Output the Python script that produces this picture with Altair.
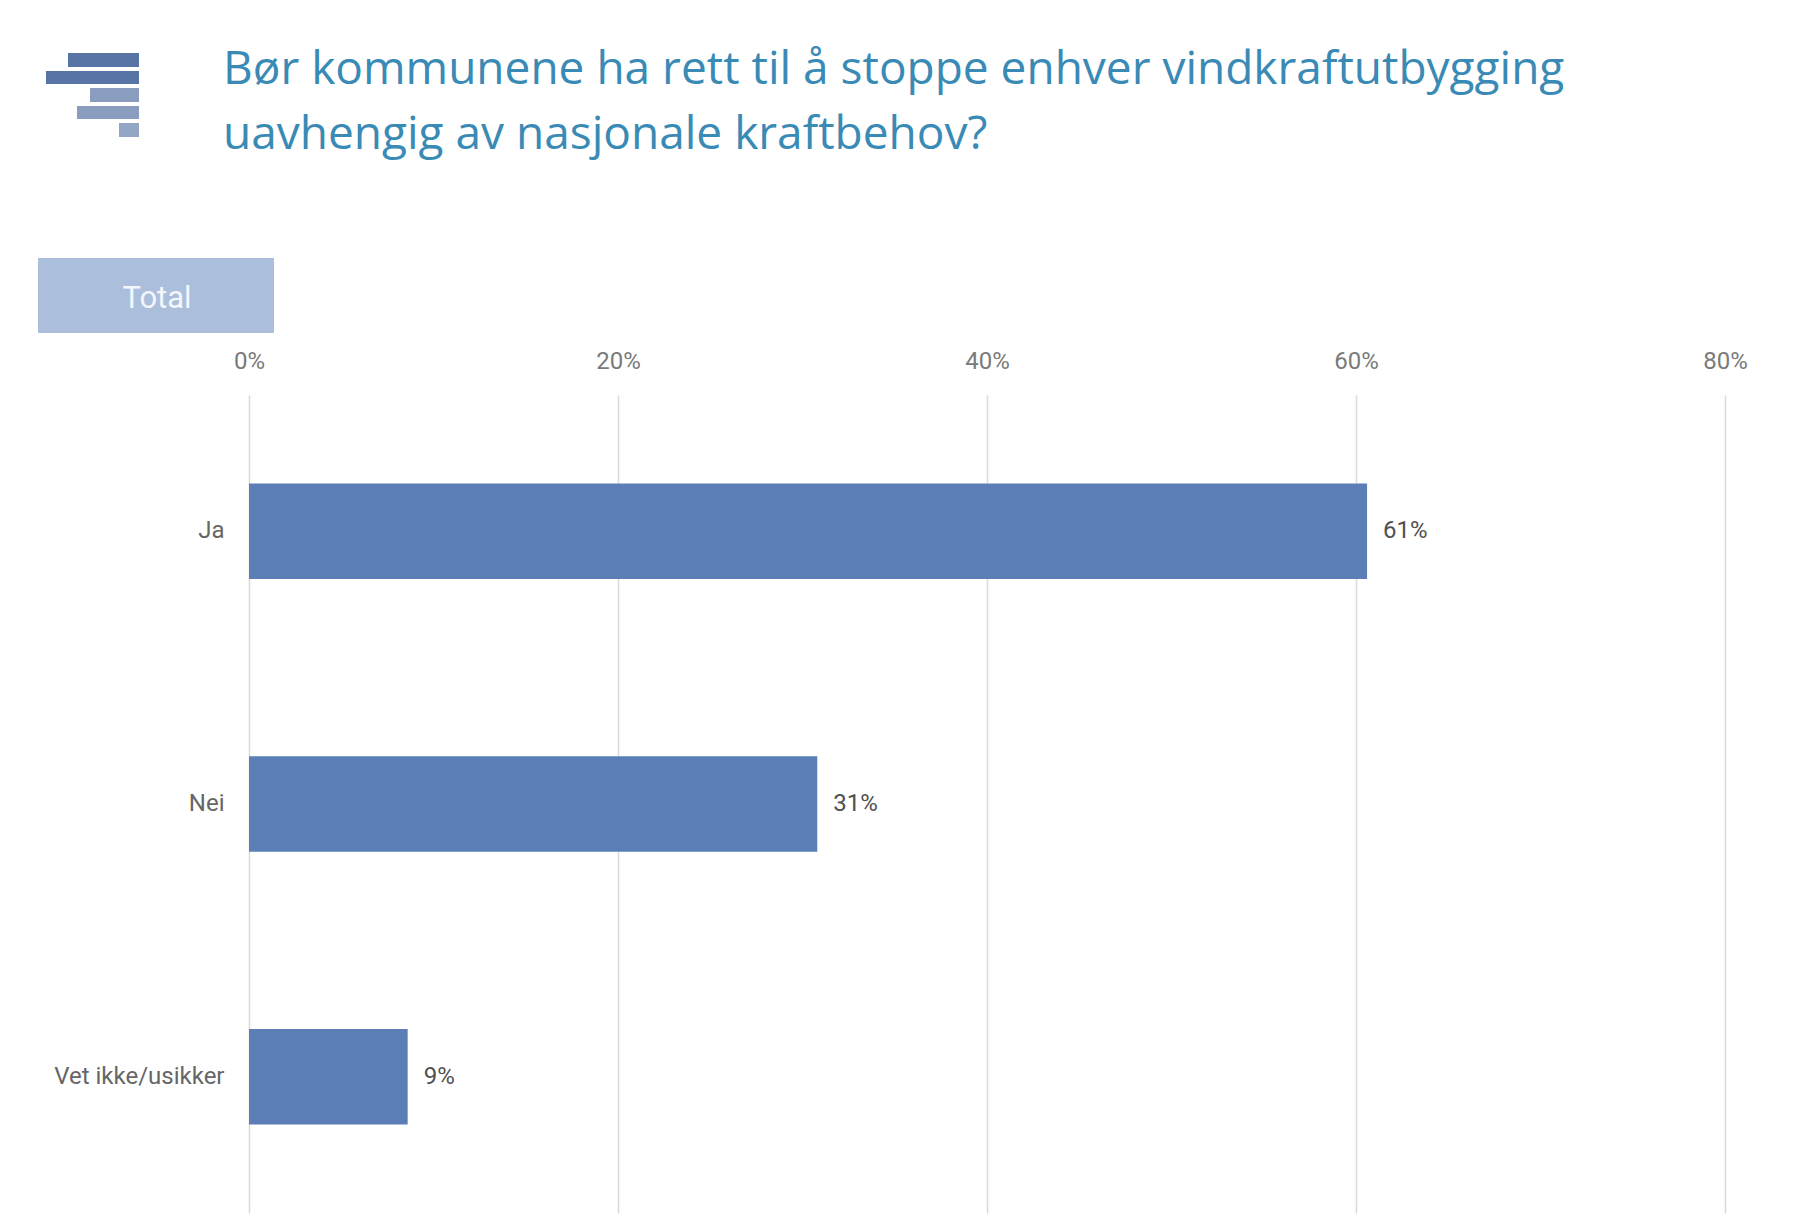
import altair as alt
import pandas as pd

# ---- data ----
categories = ["Ja", "Nei", "Vet ikke/usikker"]
shares = [0.606, 0.308, 0.086]
x_ticks = [0.0, 0.2, 0.4, 0.6, 0.8]
title_lines = [
    "Bør kommunene ha rett til å stoppe enhver vindkraftutbygging",
    "uavhengig av nasjonale kraftbehov?",
]
panel_label = "Total"

df = pd.DataFrame({"kategori": categories, "andel": shares})
one = pd.DataFrame({"k": [0]})

W, H = 1476, 818
BAR = "#5a7eb5"
FONT = "Roboto"

x_enc = alt.X(
    "andel:Q",
    scale=alt.Scale(domain=[0, 0.8], nice=False, zero=True),
    axis=alt.Axis(
        orient="top", values=x_ticks, format=".0%", grid=True,
        gridColor="#d9d9d9", gridWidth=1.5, domain=False, ticks=False,
        tickSize=0, labelPadding=22, labelFlush=False, labelFont=FONT,
        labelFontSize=24, labelColor="#7a7a7a", title=None,
    ),
)
y_enc = alt.Y(
    "kategori:N", sort=categories,
    scale=alt.Scale(paddingInner=0.65, paddingOuter=0.325),
    axis=alt.Axis(
        orient="left", domain=False, ticks=False, labelPadding=25,
        labelFont=FONT, labelFontSize=24, labelColor="#666666", title=None,
    ),
)

bars = alt.Chart(df).mark_bar(color=BAR).encode(x=x_enc, y=y_enc)

values = alt.Chart(df).mark_text(
    align="left", baseline="middle", dx=16, font=FONT, fontSize=24, color="#505050"
).encode(
    x="andel:Q",
    y=alt.Y("kategori:N", sort=categories),
    text=alt.Text("andel:Q", format=".0%"),
)


def rect(x1, x2, y1, y2, color):
    return alt.Chart(one).mark_rect(color=color).encode(
        x=alt.value(x1), x2=alt.value(x2), y=alt.value(y1), y2=alt.value(y2)
    )


logo = [
    rect(-181, -110, -342, -328, "#5873a5"),
    rect(-203, -110, -324, -311, "#5873a5"),
    rect(-159, -110, -307, -293, "#8a9dbf"),
    rect(-172, -110, -289, -276, "#8a9dbf"),
    rect(-130, -110, -272, -258, "#94a6c5"),
]

total_box = rect(-211, 25, -137, -62, "#abbfdc")
total_text = alt.Chart(one).mark_text(
    align="center", baseline="alphabetic", font=FONT, fontSize=31, color="#f3f6fb"
).encode(x=alt.value(-92), y=alt.value(-87), text=alt.value(panel_label))

title1 = alt.Chart(one).mark_text(
    align="left", baseline="alphabetic", font="Open Sans", fontSize=46, color="#3a8ab6"
).encode(x=alt.value(-26), y=alt.value(-311), text=alt.value(title_lines[0]))
title2 = alt.Chart(one).mark_text(
    align="left", baseline="alphabetic", font="Open Sans", fontSize=46, color="#3a8ab6"
).encode(x=alt.value(-26), y=alt.value(-246), text=alt.value(title_lines[1]))

chart = alt.layer(
    bars, values, *logo, total_box, total_text, title1, title2
).properties(
    width=W, height=H,
    autosize=alt.AutoSizeParams(type="none"),
    padding={"left": 241, "top": 387, "right": 57, "bottom": 5},
    background="white",
).configure_view(stroke=None)

chart.save("out.html", embed_options={"renderer": "svg", "actions": False})
